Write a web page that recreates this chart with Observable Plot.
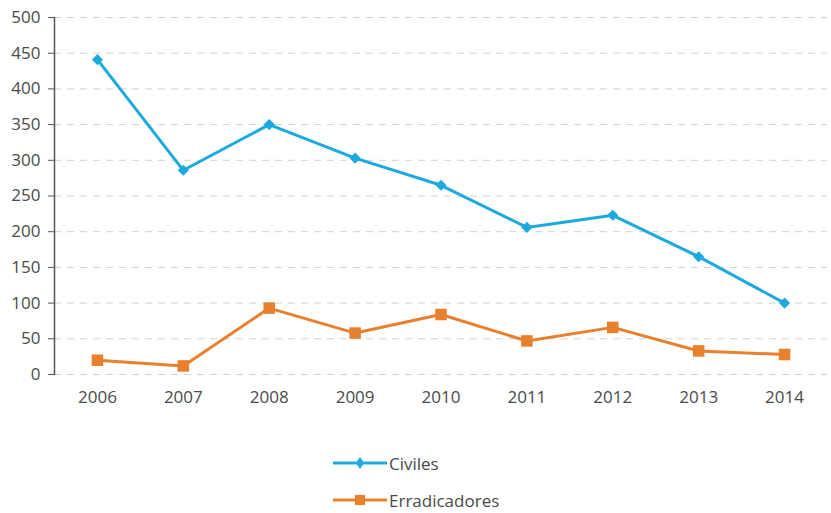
<!DOCTYPE html>
<html><head><meta charset="utf-8">
<script src="https://cdn.jsdelivr.net/npm/d3@7"></script>
<script src="https://cdn.jsdelivr.net/npm/@observablehq/plot@0.6"></script>
<style>
body{margin:0;background:#fff;font-family:"Open Sans",sans-serif;}
#chart svg{display:block;}
#legend{position:relative;width:831px;height:93px;}
.item{position:absolute;left:333px;display:flex;align-items:center;font-size:17px;color:#4a4a4a;height:20px;}
.item svg{display:block;margin-right:2px;}
</style></head><body>
<div id="chart"></div>
<div id="legend"></div>
<script>
const years = [2006, 2007, 2008, 2009, 2010, 2011, 2012, 2013, 2014];
const civiles = [441, 286, 350, 303, 265, 206, 223, 165, 100];
const erradicadores = [20, 12, 93, 58, 84, 47, 66, 33, 28];
const yTicks = [0, 50, 100, 150, 200, 250, 300, 350, 400, 450, 500];
const seriesNames = ["Civiles", "Erradicadores"];
const seriesColors = ["#1ba9df", "#e8802e"];
const seriesSymbols = ["diamond2", "square"];

const data = [];
years.forEach((y, i) => data.push({year: y, value: civiles[i], series: seriesNames[0]}));
years.forEach((y, i) => data.push({year: y, value: erradicadores[i], series: seriesNames[1]}));

const chart = Plot.plot({
  width: 831, height: 420,
  marginLeft: 54, marginRight: 4, marginTop: 17, marginBottom: 46,
  style: {fontFamily: '"Open Sans", sans-serif', fontSize: "17px", color: "#4a4a4a", background: "#fff"},
  x: {type: "point", domain: years, padding: 0.5, round: false, label: null},
  y: {domain: [0, 500], label: null},
  color: {domain: seriesNames, range: seriesColors},
  symbol: {domain: seriesNames, range: seriesSymbols},
  marks: [
    Plot.gridY(yTicks, {stroke: "#d2d2d2", strokeOpacity: 1, strokeDasharray: "7,6"}),
    Plot.frame({anchor: "left", stroke: "#555", strokeWidth: 1.5}),
    Plot.axisY(yTicks, {tickSize: 6, tickPadding: 8, label: null, fontSize: 17, stroke: "#555"}),
    Plot.axisX(years, {tickSize: 0, tickPadding: 16, label: null, fontSize: 17, tickFormat: d => String(d)}),
    Plot.line(data, {x: "year", y: "value", stroke: "series", strokeWidth: 3, z: "series"}),
    Plot.dot(data.filter(d => d.series === seriesNames[0]), {x: "year", y: "value", symbol: "series", fill: "series", r: 5, stroke: null}),
    Plot.dot(data.filter(d => d.series === seriesNames[1]), {x: "year", y: "value", symbol: "series", fill: "series", r: 6.5, stroke: null})
  ]
});
document.getElementById("chart").appendChild(chart);

const legend = document.getElementById("legend");
const tops = [33, 70];
seriesNames.forEach((name, i) => {
  const item = document.createElement("div");
  item.className = "item";
  item.style.top = tops[i] + "px";
  const sym = i === 0
    ? `<path d="M27 4 L31 10 L27 16 L23 10 Z" fill="${seriesColors[i]}"/>`
    : `<rect x="22" y="5" width="10" height="10" fill="${seriesColors[i]}"/>`;
  item.innerHTML = `<svg width="54" height="20"><line x1="0" y1="10" x2="54" y2="10" stroke="${seriesColors[i]}" stroke-width="3"/>${sym}</svg><span>${name}</span>`;
  legend.appendChild(item);
});
</script>
</body></html>
